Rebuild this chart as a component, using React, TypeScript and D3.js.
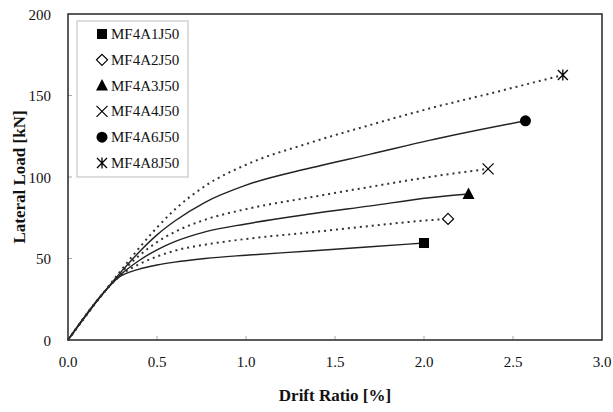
import React from "react";
import * as d3 from "d3";

const W = 613;
const H = 412;
const PLOT = { left: 68, right: 602, top: 14, bottom: 340 };

const xTicks = [0, 0.5, 1.0, 1.5, 2.0, 2.5, 3.0];
const yTicks = [0, 50, 100, 150, 200];

const seriesNames = ["MF4A1J50", "MF4A2J50", "MF4A3J50", "MF4A4J50", "MF4A6J50", "MF4A8J50"];
const seriesMarkers = ["square", "diamond", "triangle", "cross", "circle", "star"];
const seriesDotted = [false, true, false, true, false, true];

const driftMF4A1J50 = [0, 0.2, 0.28, 0.4, 0.5, 0.6, 0.77, 1.0, 1.36, 1.7, 2.0];
const loadMF4A1J50 = [0, 29, 38, 43.5, 46, 47.8, 50, 52, 54.6, 57.2, 59.5];

const driftMF4A2J50 = [0, 0.2, 0.3, 0.4, 0.5, 0.6, 0.77, 1.0, 1.36, 1.7, 2.03, 2.135];
const loadMF4A2J50 = [0, 29, 40, 46.5, 51.2, 54.8, 58.5, 62, 66, 70, 73.5, 74.3];

const driftMF4A3J50 = [0, 0.2, 0.3, 0.4, 0.5, 0.6, 0.77, 1.0, 1.36, 1.7, 2.03, 2.25];
const loadMF4A3J50 = [0, 29, 40.5, 48.8, 55.3, 60.3, 66.3, 71.2, 77.3, 82.3, 87.3, 89.6];

const driftMF4A4J50 = [0, 0.2, 0.3, 0.4, 0.5, 0.6, 0.77, 1.0, 1.36, 1.7, 2.03, 2.36];
const loadMF4A4J50 = [0, 29, 41.5, 51.8, 60, 66.3, 73.8, 80.3, 87.5, 94, 100, 105];

const driftMF4A6J50 = [0, 0.2, 0.3, 0.4, 0.5, 0.6, 0.77, 1.0, 1.36, 1.7, 2.03, 2.57];
const loadMF4A6J50 = [0, 29, 42, 54, 64.5, 73, 84.5, 95, 105.5, 114, 122.5, 134.5];

const driftMF4A8J50 = [0, 0.2, 0.3, 0.4, 0.5, 0.6, 0.77, 1.0, 1.36, 1.7, 2.03, 2.4, 2.78];
const loadMF4A8J50 = [0, 29, 43, 56.5, 69, 80, 94.5, 107.5, 121, 132, 142, 152, 162.6];

const drifts = [driftMF4A1J50, driftMF4A2J50, driftMF4A3J50, driftMF4A4J50, driftMF4A6J50, driftMF4A8J50];
const loads = [loadMF4A1J50, loadMF4A2J50, loadMF4A3J50, loadMF4A4J50, loadMF4A6J50, loadMF4A8J50];

const FONT = "'Liberation Serif', 'Times New Roman', serif";

function Marker({ type, x, y }: { type: string; x: number; y: number }) {
  const c = "#000";
  switch (type) {
    case "square":
      return <rect x={x - 5} y={y - 5} width={10} height={10} fill={c} />;
    case "diamond":
      return (
        <path
          d={`M${x},${y - 5.5}L${x + 5.5},${y}L${x},${y + 5.5}L${x - 5.5},${y}Z`}
          fill="#fff"
          stroke={c}
          strokeWidth={1.2}
        />
      );
    case "triangle":
      return <path d={`M${x},${y - 6.5}L${x + 6},${y + 5}L${x - 6},${y + 5}Z`} fill={c} />;
    case "cross":
      return (
        <path
          d={`M${x - 5.5},${y - 5.5}L${x + 5.5},${y + 5.5}M${x + 5.5},${y - 5.5}L${x - 5.5},${y + 5.5}`}
          stroke={c}
          strokeWidth={1.2}
        />
      );
    case "circle":
      return <circle cx={x} cy={y} r={5.5} fill={c} />;
    case "star":
      return (
        <path
          d={`M${x - 5},${y - 5}L${x + 5},${y + 5}M${x + 5},${y - 5}L${x - 5},${y + 5}M${x},${y - 5.5}L${x},${y + 5.5}`}
          stroke={c}
          strokeWidth={1.3}
        />
      );
    default:
      return null;
  }
}

export default function App() {
  const x = d3.scaleLinear().domain([0, 3]).range([PLOT.left, PLOT.right]);
  const y = d3.scaleLinear().domain([0, 200]).range([PLOT.bottom, PLOT.top]);
  const line = d3
    .line<[number, number]>()
    .x((d) => x(d[0]))
    .y((d) => y(d[1]))
    .curve(d3.curveMonotoneX);

  const x0 = x(0);
  const x1 = x(3);
  const y0 = y(0);
  const y1 = y(200);

  return (
    <svg
      width={W}
      height={H}
      style={{ position: "absolute", left: 0, top: 0, background: "#fff" }}
      fontFamily={FONT}
    >
      <rect x={0} y={0} width={W} height={H} fill="#fff" />
      {xTicks.slice(1, -1).map((t) => (
        <line key={"xt" + t} x1={x(t)} x2={x(t)} y1={y0} y2={y0 - 4} stroke="#aaa" strokeWidth={1} />
      ))}
      {yTicks.slice(1, -1).map((t) => (
        <line key={"yt" + t} x1={x0} x2={x0 + 4} y1={y(t)} y2={y(t)} stroke="#aaa" strokeWidth={1} />
      ))}
      {seriesNames.map((name, i) => {
        const pts: [number, number][] = drifts[i].map((d, j) => [d, loads[i][j]]);
        return (
          <path
            key={name}
            d={line(pts) || ""}
            fill="none"
            stroke={seriesDotted[i] ? "#333" : "#222"}
            strokeWidth={seriesDotted[i] ? 2 : 1.4}
            strokeDasharray={seriesDotted[i] ? "2 4" : undefined}
          />
        );
      })}
      {seriesNames.map((name, i) => {
        const n = drifts[i].length - 1;
        return <Marker key={"m" + name} type={seriesMarkers[i]} x={x(drifts[i][n])} y={y(loads[i][n])} />;
      })}
      <rect x={x0} y={y1} width={x1 - x0} height={y0 - y1} fill="none" stroke="#333" strokeWidth={1.6} />
      {xTicks.map((t) => (
        <text key={"xl" + t} x={x(t)} y={y0 + 27} textAnchor="middle" fontSize={15} fill="#111">
          {t.toFixed(1)}
        </text>
      ))}
      {yTicks.map((t) => (
        <text key={"yl" + t} x={x0 - 17} y={y(t) + 5.5} textAnchor="end" fontSize={15} fill="#111">
          {t}
        </text>
      ))}
      <text x={(x0 + x1) / 2} y={401} textAnchor="middle" fontSize={17} fontWeight="bold" fill="#111">
        Drift Ratio [%]
      </text>
      <text
        transform={`translate(25,${(y0 + y1) / 2}) rotate(-90)`}
        textAnchor="middle"
        fontSize={17}
        fontWeight="bold"
        fill="#111"
      >
        Lateral Load [kN]
      </text>
      <rect x={77} y={21} width={111} height={156} fill="#fff" stroke="#bbb" strokeWidth={1} />
      {seriesNames.map((name, i) => {
        const ly = 34 + i * 25.8;
        return (
          <g key={"lg" + name}>
            <Marker type={seriesMarkers[i]} x={102} y={ly} />
            <text x={111} y={ly + 5} fontSize={15} fill="#111">
              {name}
            </text>
          </g>
        );
      })}
    </svg>
  );
}
